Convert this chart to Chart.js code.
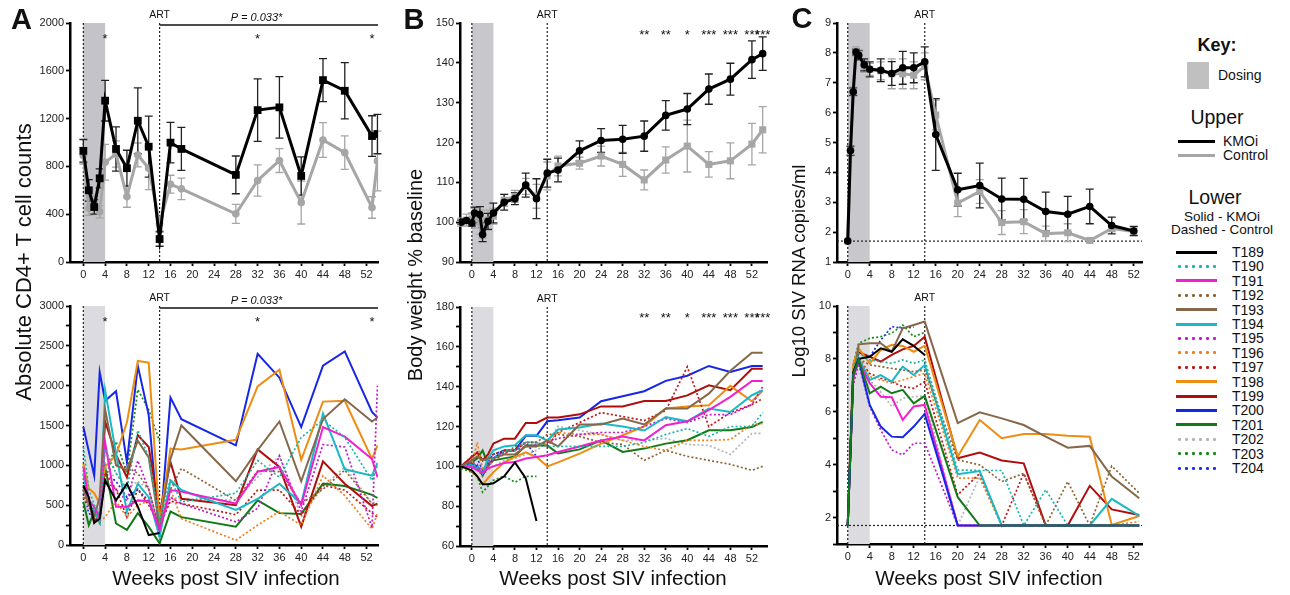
<!DOCTYPE html>
<html>
<head>
<meta charset="utf-8">
<script src="https://cdn.jsdelivr.net/npm/chart.js@4.4.1/dist/chart.umd.min.js"></script>
<style>
  body { margin: 0; background: #fff; width: 1290px; height: 595px; position: relative; overflow: hidden;
         font-family: "Liberation Sans", Arial, sans-serif; color: #111; }
  canvas { position: absolute; }
  .t { position: absolute; white-space: nowrap; line-height: 1; transform: translate(-50%, -50%); }
  .ln { position: absolute; height: 3px; }
</style>
</head>
<body>
<script>
// ===== Данные =====
// A: CD4+ (средние)
const weeksCd4 = [0, 1, 2, 3, 4, 6, 8, 10, 12, 14, 16, 18, 28, 32, 36, 40, 44, 48, 53, 54];
const cd4Kmoi = [930, 600, 460, 700, 1350, 946, 785, 1182, 965, 192, 999, 946, 729, 1271, 1294, 720, 1522, 1433, 1054, 1071];
const cd4KmoiSem = [95, 90, 60, 80, 170, 185, 150, 275, 255, 60, 170, 180, 158, 262, 258, 160, 180, 235, 170, 165];
const cd4Ctrl = [890, 450, 500, 420, 835, 904, 548, 896, 785, 320, 651, 612, 403, 682, 849, 498, 1021, 915, 456, 846];
const cd4CtrlSem = [70, 60, 60, 50, 150, 110, 90, 100, 180, 60, 75, 90, 80, 130, 100, 180, 145, 140, 90, 250];

// A: CD4+ по животным (порядок как в animalIds)
const cd4Animals = [
  [750, 600, 280, 330, 810, 560, 770, 480, 125, 150, null, null, null, null, null, null, null, null, null, null],
  [1230, 700, 500, 400, 1200, 900, 700, 1440, 1100, 300, 830, 540, 650, 1060, 850, 1350, 1570, 1350, 810, 1000],
  [980, 560, 480, 350, 1290, 480, 480, 560, 550, 190, 690, 670, 520, 920, 980, 500, 1480, 1360, 1080, 850],
  [600, 500, 400, 450, 900, 1000, 980, 900, 700, 200, 700, 960, 560, 930, 920, 520, 700, 940, 520, 500],
  [700, 520, 350, 600, 1700, 1000, 940, 1310, 1100, 230, 1080, 1500, 800, 1190, 1550, 800, 1580, 1830, 1550, 1600],
  [900, 520, 420, 290, 1940, 1150, 420, 770, 600, 100, 810, 690, 440, 580, 770, 520, 1650, 950, 870, 1030],
  [700, 500, 400, 350, 800, 700, 550, 1060, 700, 200, 600, 520, 290, 460, 1120, 420, 1260, 1230, 220, 2000],
  [600, 550, 400, 300, 350, 550, 350, 500, 550, 250, 700, 330, 60, 250, 420, 250, 870, 620, 200, 400],
  [600, 500, 350, 400, 900, 700, 350, 700, 500, 250, 550, 520, 380, 690, 690, 380, 750, 690, 400, 350],
  [1020, 710, 650, 520, 980, 1130, 1540, 2310, 2290, 290, 1210, 1200, 1320, 1990, 2200, 1070, 1800, 1810, 1080, 1250],
  [730, 560, 280, 400, 1550, 1130, 850, 1380, 1230, 400, 1040, 580, 500, 1200, 980, 230, 1050, 770, 490, 520],
  [1480, null, 870, 2170, 1810, 1930, 1040, 2250, 1630, 100, 1850, 1580, 1250, 2400, 2100, 1480, 2250, 2430, 1670, 1600],
  [540, 250, 420, 280, 980, 270, 190, 400, 230, 20, 420, 350, 230, 560, 400, 390, 770, 740, 630, 590],
  [550, 450, 350, 400, 800, 900, 700, 800, 700, 200, 600, 580, 560, 850, 1120, 350, 730, 980, 520, 550],
  [700, 500, 450, 400, 800, 1300, 900, 1950, 1700, 1300, null, null, null, null, null, null, null, null, null, null],
  [650, 400, 350, 300, 900, 800, 600, 700, 550, null, null, null, null, null, null, null, null, null, null, null],
];

// B: вес (средние)
const weeksWtMean = [-2, -1, 0, 0.5, 1.5, 2, 3, 4, 6, 8, 10, 12, 14, 16, 20, 24, 28, 32, 36, 40, 44, 48, 52, 54];
const wtKmoi = [100, 100.4, 99.8, 102.3, 101.9, 96.9, 100.2, 102.3, 105, 105.9, 109.3, 105.9, 112.3, 113.1, 117.9, 120.5, 120.8, 121.6, 126.8, 128.4, 133.4, 135.9, 140.8, 142.3];
const wtKmoiSem = [0.5, 0.5, 0.8, 1.5, 2, 1.8, 2, 2.5, 2, 1.5, 3, 5, 3.5, 3, 2.5, 3, 3.5, 3.8, 3.7, 3.9, 3.8, 4, 4.7, 4.2];
const wtCtrl = [100, 100.5, 100.8, 101, 100, 98.5, 100.5, 101.5, 105.5, 106.5, 109, 106.5, 111.6, 114.1, 114.8, 116.6, 114.5, 110.6, 115.6, 119.1, 114.5, 115.4, 119.6, 123.2];
const wtCtrlSem = [1, 1.5, 1.5, 2.5, 3, 2.5, 2.5, 2, 1.5, 1.5, 2, 3, 3.5, 2.5, 1.5, 2.5, 3, 2.5, 3.3, 6.5, 3.2, 4.5, 5.2, 5.8];

// B: вес по животным
const weeksWt = [-2, 0, 1, 2, 3, 4, 6, 8, 10, 12, 14, 16, 20, 24, 28, 32, 36, 40, 44, 48, 52, 54];
const wtAnimals = [
  [100, 98, 95, 91, 91, 91.5, 95, 102, 94, 72.5, null, null, null, null, null, null, null, null, null, null, null, null],
  [100, 101, 100, 98, 102, 104, 108, 108, 112, 112, 110, 110, 110, 110, 110, 112, 116, 119, 115, 120, 120, 127],
  [100, 99.7, 98, 97, 99, 100, 101.7, 102.2, 103.9, 104.7, 105.6, 107.2, 110, 113, 115, 113, 120.6, 122.6, 128.2, 134.9, 142.9, 142.9],
  [100, 100, 99, 95, 100, 103, 106, 110, 112, 112, 116, 116, 115, 112, 111, 103, 108, 105, 103, 101, 98, 100],
  [100, 103, 105, 103, 104, 104, 106, 106, 110, 110, 113, 110, 121, 121, 124, 121, 129, 129, 136.5, 148, 157, 157],
  [100, 100.5, 99, 96.4, 104, 108, 110, 110.6, 115.6, 115.6, 113, 118.5, 119.5, 121.5, 120, 118, 124.8, 122.6, 129, 127.3, 135.7, 138.2],
  [100, 102, 101, 97, 101, 104, 107, 108, 110, 111, 112, 114, 116, 117, 117, 120, 124, 122, 126, 126, 131, 140],
  [100, 101, 112, 98, 100, 104, 107, 108, 110, 110, 112, 117, 116, 116, 113, 110, 108, 113, 113, 113.5, 121, 121.5],
  [100, 105, 107, 103, 104, 106, 108, 108, 112, 112, 110, 117, 122, 127, 125, 123, 128, 150, 120, 127, 131, 134],
  [100, 97.7, 95, 91, 94, 97, 102, 104.7, 107, 104.7, 100, 102, 106.4, 111.4, 115.6, 120, 129, 130, 130.7, 140.4, 132.7, 137.9],
  [100, 104.7, 107, 103, 106, 111.4, 113.9, 113.9, 121.8, 121.8, 124.5, 124.5, 126.1, 130.1, 130.1, 132.8, 132.8, 135.6, 140.7, 138.2, 149, 149],
  [100, 101, 100, 95.5, 100, 104, 108, 108, 115.3, 115.3, 122.6, 123.1, 124.5, 132.7, 135.2, 137.7, 142.9, 145.5, 150.4, 147.4, 150.4, 150.4],
  [100, 102, 104, 108, 101, 103, 104, 105, 110.5, 110.5, 110.5, 106.5, 108.5, 113, 107.2, 108.9, 111.4, 113.1, 118.1, 118.1, 119.7, 122.3],
  [100, 101, 100, 96, 98, 100, 103, 104, 106, 108, 112, 120, 118, 116, 113, 113, 114, 111, 110.5, 106, 116.5, 116.5],
  [99, 97, 95, 87, 90, 93, 95, 92, 95, 95, null, null, null, null, null, null, null, null, null, null, null, null],
  [100, 102, 104, 98, 102, 106, 108, 108, 112, 105, null, null, null, null, null, null, null, null, null, null, null, null],
];

// C: вирусная нагрузка (средние)
const weeksVlMean = [0, 0.5, 1, 1.5, 2, 3, 4, 6, 8, 10, 12, 14, 16, 20, 24, 28, 32, 36, 40, 44, 48, 52];
const vlKmoi = [1.7, 4.73, 6.7, 8.03, 7.92, 7.6, 7.45, 7.42, 7.31, 7.5, 7.5, 7.7, 5.27, 3.42, 3.56, 3.11, 3.1, 2.69, 2.6, 2.86, 2.22, 2.04];
const vlKmoiSem = [0, 0.15, 0.12, 0.1, 0.15, 0.2, 0.25, 0.38, 0.4, 0.55, 0.5, 0.5, 1.2, 0.55, 0.75, 0.7, 0.7, 0.65, 0.6, 0.58, 0.28, 0.15];
const vlCtrl = [1.7, 4.7, 6.7, 8.05, 7.95, 7.55, 7.45, 7.4, 7.3, 7.3, 7.25, 7.55, 5.92, 2.97, 3.36, 2.32, 2.35, 1.95, 1.98, 1.72, 2.12, 2.02];
const vlCtrlSem = [0, 0.15, 0.15, 0.15, 0.15, 0.2, 0.2, 0.3, 0.5, 0.5, 0.45, 0.45, 0.5, 0.45, 0.4, 0.4, 0.4, 0.25, 0.3, 0.05, 0.1, 0.15];

// C: вирусная нагрузка по животным
const weeksVl = [0, 1, 2, 4, 6, 8, 10, 12, 14, 20, 24, 28, 32, 36, 40, 44, 48, 53];
const vlAnimals = [
  [1.7, 7.5, 8.0, 8.08, 8.4, 8.27, 8.74, 8.49, 8.15, null, null, null, null, null, null, null, null, null],
  [1.7, 7.6, 8.2, 7.96, 7.9, 7.83, 7.96, 7.83, 7.96, 3.8, 3.78, 3.78, 1.7, 3.05, 1.7, 1.7, 1.7, 1.7],
  [1.7, 7.3, 7.9, 7.08, 6.57, 6.55, 5.69, 6.2, 6.26, 1.7, 1.7, 1.7, 1.7, 1.7, 1.7, 1.7, 1.7, 1.7],
  [1.7, 7.5, 8.0, 7.77, 7.71, 7.64, 7.58, 7.52, 7.58, 4.18, 3.99, 3.36, 3.67, 1.7, 3.36, 1.7, 3.95, 2.92],
  [1.7, 7.2, 8.55, 8.59, 8.59, 8.27, 9.16, 9.28, 9.41, 5.57, 5.98, 5.75, 5.5, 5.06, 4.64, 4.71, 3.55, 2.73],
  [1.7, 7.4, 8.02, 7.2, 7.39, 7.14, 7.71, 7.39, 7.77, 3.64, 3.76, 1.7, 1.7, 1.7, 1.7, 1.7, 2.71, 2.06],
  [1.7, 7.0, 7.83, 6.2, 5.31, 4.56, 4.37, 4.81, 4.81, 1.7, 1.7, 1.7, 1.7, 1.7, 1.7, 1.7, 1.7, 1.7],
  [1.7, 7.4, 8.0, 7.33, 7.2, 7.08, 7.2, 7.33, 7.45, 3.49, 3.49, 1.7, 1.7, 1.7, 1.7, 1.7, 1.7, 1.85],
  [1.7, 7.3, 8.0, 7.45, 7.27, 7.14, 6.95, 6.89, 7.14, 2.86, 3.67, 1.7, 3.67, 1.7, 1.7, 1.7, 1.7, 1.7],
  [1.7, 7.8, 8.4, 7.83, 8.33, 8.53, 8.49, 8.27, 8.5, 4.31, 5.69, 5.0, 5.16, 5.16, 5.09, 5.06, 1.72, 2.06],
  [1.7, 7.6, 8.25, 8.08, 7.9, 8.15, 8.36, 8.49, 8.84, 4.24, 4.46, 4.16, 4.05, 1.7, 1.7, 3.2, 2.31, 2.1],
  [1.7, 7.4, 7.96, 6.26, 5.44, 5.06, 5.04, 5.44, 5.92, 1.7, 1.7, 1.7, 1.7, 1.7, 1.7, 1.7, 1.7, 1.7],
  [1.7, 7.4, 7.96, 6.7, 6.95, 6.7, 6.83, 6.32, 6.6, 2.77, 1.7, 1.7, 1.7, 1.7, 1.7, 1.7, 1.7, 1.7],
  [1.7, 7.2, 7.9, 7.2, 6.76, 6.2, 6.51, 6.57, 6.6, 1.7, 3.55, 1.7, 1.7, 1.7, 1.7, 1.7, 1.7, 1.7],
  [1.7, 7.8, 8.59, 8.78, 8.84, 8.97, 9.28, 8.84, 9.0, null, null, null, null, null, null, null, null, null],
  [1.7, 7.6, 8.21, 8.08, 8.71, 9.22, 9.16, 9.2, null, null, null, null, null, null, null, null, null, null],
];

// Животные
const animalIds = ["T189", "T190", "T191", "T192", "T193", "T194", "T195", "T196", "T197", "T198", "T199", "T200", "T201", "T202", "T203", "T204"];
const animalColors = ["#000000", "#1bb5a5", "#f01fcf", "#8b6433", "#86674a", "#19b9c8", "#c218c8", "#f07f1d",
                      "#c41616", "#ef8c12", "#b00d0d", "#1526e6", "#117a17", "#b4b4b4", "#168c16", "#1c2cf0"];
const animalDashed = [false, true, false, true, false, false, true, true, true, false, false, false, false, true, true, true];

// Подписи осей
const weekTicks = [0, 4, 8, 12, 16, 20, 24, 28, 32, 36, 40, 44, 48, 52];
const cd4UpperTicks = [0, 400, 800, 1200, 1600, 2000];
const cd4LowerTicks = [0, 250, 500, 750, 1000, 1250, 1500, 1750, 2000, 2250, 2500, 2750, 3000];
const wtUpperTicks = [90, 100, 110, 120, 130, 140, 150];
const wtLowerTicks = [60, 70, 80, 90, 100, 110, 120, 130, 140, 150, 160, 170, 180];
const vlUpperTicks = [1, 2, 3, 4, 5, 6, 7, 8, 9];
const vlLowerTicks = [1, 2, 3, 4, 5, 6, 7, 8, 9, 10];

const wtStars = [[32, "**"], [36, "**"], [40, "*"], [44, "***"], [48, "***"], [52, "***"], [54, "***"]];
const cd4Stars = [[4, "*"], [32, "*"], [53, "*"]];

// ===== Оформление =====
Chart.defaults.font.family = "'Liberation Sans', Arial, sans-serif";
Chart.defaults.color = "#222";

const YW = 44;
const XH = 24;
const PR = 10;
const GRAY = "#a6a6a6";

const toPoints = (weeks, vals) => weeks.map((w, i) => ({ x: w, y: vals[i] }));

// Плагин: полоса дозирования, пунктиры, ошибки, ART, звёздочки
const decorPlugin = {
  id: "decor",
  beforeDatasetsDraw(chart, args, o) {
    let { ctx, chartArea: a, scales } = chart;
    let x = scales.x, y = scales.y;
    ctx.save();
    let b0 = x.getPixelForValue(0), b1 = x.getPixelForValue(4);
    ctx.fillStyle = o.bandColor;
    ctx.fillRect(b0, a.top, b1 - b0, a.bottom - a.top);
    ctx.strokeStyle = "#222";
    ctx.lineWidth = 1.2;
    ctx.setLineDash([2, 2]);
    [0, 14].forEach((w) => {
      let px = x.getPixelForValue(w);
      ctx.beginPath();
      ctx.moveTo(px, a.top);
      ctx.lineTo(px, a.bottom);
      ctx.stroke();
    });
    if (o.lod) {
      let py = y.getPixelForValue(o.lod);
      ctx.beginPath();
      ctx.moveTo(a.left, py);
      ctx.lineTo(a.right, py);
      ctx.stroke();
    }
    ctx.setLineDash([]);
    (o.errors || []).forEach((e) => {
      let pts = chart.data.datasets[e.ds].data;
      ctx.strokeStyle = e.color;
      ctx.lineWidth = 1.3;
      pts.forEach((p, i) => {
        let err = e.sem[i];
        if (!err) return;
        let px = x.getPixelForValue(p.x);
        let y1 = y.getPixelForValue(p.y + err), y2 = y.getPixelForValue(p.y - err);
        ctx.beginPath();
        ctx.moveTo(px, y1); ctx.lineTo(px, y2);
        ctx.moveTo(px - 4, y1); ctx.lineTo(px + 4, y1);
        ctx.moveTo(px - 4, y2); ctx.lineTo(px + 4, y2);
        ctx.stroke();
      });
    });
    ctx.restore();
  },
  afterDraw(chart, args, o) {
    let { ctx, chartArea: a, scales } = chart;
    let x = scales.x;
    let x14 = x.getPixelForValue(14);
    ctx.save();
    ctx.fillStyle = "#111";
    ctx.textAlign = "center";
    ctx.textBaseline = "middle";
    ctx.font = "10.5px 'Liberation Sans', Arial, sans-serif";
    ctx.fillText("ART", x14, a.top - 8);
    if (o.pBar) {
      ctx.strokeStyle = "#111";
      ctx.lineWidth = 1.5;
      ctx.beginPath();
      ctx.moveTo(x14, a.top + 2);
      ctx.lineTo(a.right, a.top + 2);
      ctx.stroke();
      ctx.font = "italic 11px 'Liberation Sans', Arial, sans-serif";
      ctx.fillText("P = 0.033*", x.getPixelForValue(31.8), a.top - 5);
    }
    ctx.font = "13px 'Liberation Sans', Arial, sans-serif";
    ctx.textBaseline = "alphabetic";
    (o.stars || []).forEach(([w, s]) => {
      ctx.fillText(s, x.getPixelForValue(w), a.top + o.starDy + 6);
    });
    ctx.restore();
  },
};

const axisBase = (min, max, tickVals, labelVals, isX) => ({
  type: "linear",
  min: min,
  max: max,
  afterBuildTicks: (s) => {
    s.ticks = tickVals.map((v) => ({ value: v }));
  },
  afterFit: (s) => {
    if (isX) s.height = XH;
    else s.width = YW;
  },
  ticks: {
    autoSkip: false,
    maxRotation: 0,
    padding: 2,
    color: "#222",
    font: { size: 11 },
    callback: (v) => (labelVals.includes(v) ? String(v) : ""),
  },
  grid: { display: true, drawOnChartArea: false, drawTicks: true, tickLength: 4, tickWidth: 1.8, tickColor: "#000", color: "#000" },
  border: { display: true, width: 2.5, color: "#000" },
});

const makePanel = (area, canvasTop, xRange, yRange, yTicks, yLabels, datasets, decor) => {
  let c = document.createElement("canvas");
  let w = Math.round(area.R - area.L) + YW + PR;
  let h = Math.round(area.B - canvasTop) + XH;
  c.width = w;
  c.height = h;
  c.style.left = area.L - YW + "px";
  c.style.top = canvasTop + "px";
  c.style.width = w + "px";
  c.style.height = h + "px";
  document.body.appendChild(c);
  return new Chart(c.getContext("2d"), {
    type: "line",
    data: { datasets: datasets },
    plugins: [decorPlugin],
    options: {
      responsive: false,
      animation: false,
      events: [],
      layout: { padding: { top: area.T - canvasTop, right: PR, left: 0, bottom: 0 } },
      scales: {
        x: axisBase(xRange[0], xRange[1], weekTicks, weekTicks, true),
        y: axisBase(yRange[0], yRange[1], yTicks, yLabels, false),
      },
      plugins: { legend: { display: false }, tooltip: { enabled: false }, decor: decor },
    },
  });
};

const meanSets = (weeks, kmoi, ctrl, kStyle, cStyle) => [
  {
    label: "KMOi", data: toPoints(weeks, kmoi), borderColor: "#000", borderWidth: 3,
    pointStyle: kStyle, pointRadius: kStyle === "rect" ? 5.5 : 3.8, pointBackgroundColor: "#000", pointBorderColor: "#000", pointBorderWidth: 0,
  },
  {
    label: "Control", data: toPoints(weeks, ctrl), borderColor: GRAY, borderWidth: 3,
    pointStyle: cStyle, pointRadius: cStyle === "rect" ? 5 : 3.8, pointBackgroundColor: GRAY, pointBorderColor: GRAY, pointBorderWidth: 0,
  },
];

const animalSets = (weeks, rows, orders) =>
  rows.map((vals, i) => ({
    label: animalIds[i],
    data: toPoints(weeks, vals),
    borderColor: animalColors[i],
    borderWidth: animalDashed[i] ? 1.7 : 2,
    borderDash: animalDashed[i] ? [2, 2.2] : [],
    pointRadius: 0,
    spanGaps: true,
    tension: 0,
    order: orders ? orders[i] : 0,
  }));

const upErrors = (kSem, cSem) => [
  { ds: 1, sem: cSem, color: GRAY },
  { ds: 0, sem: kSem, color: "#222" },
];

// ===== Панели =====
const xA = [-2.45, 54.1], xB = [-2.2, 54.8], xC = [-1.95, 53.5];

makePanel({ L: 70, R: 378, T: 23, B: 262 }, 0, xA, [0, 2000], cd4UpperTicks, cd4UpperTicks,
  meanSets(weeksCd4, cd4Kmoi, cd4Ctrl, "rect", "circle"),
  { bandColor: "#c4c3c8", errors: upErrors(cd4KmoiSem, cd4CtrlSem), pBar: true, stars: cd4Stars, starDy: 14 });

makePanel({ L: 70, R: 378, T: 306, B: 545 }, 272, xA, [0, 3000], cd4LowerTicks, [0, 500, 1000, 1500, 2000, 2500, 3000],
  animalSets(weeksCd4, cd4Animals),
  { bandColor: "#dcdce0", pBar: true, stars: cd4Stars, starDy: 14 });

makePanel({ L: 460, R: 767, T: 23, B: 262 }, 0, xB, [90, 150], wtUpperTicks, wtUpperTicks,
  meanSets(weeksWtMean, wtKmoi, wtCtrl, "circle", "rect"),
  { bandColor: "#c8c7cc", errors: upErrors(wtKmoiSem, wtCtrlSem), stars: wtStars, starDy: 10 });

makePanel({ L: 460, R: 767, T: 307, B: 546 }, 272, xB, [60, 180], wtLowerTicks, [60, 80, 100, 120, 140, 160, 180],
  animalSets(weeksWt, wtAnimals),
  { bandColor: "#dcdce0", stars: wtStars, starDy: 8.5 });

makePanel({ L: 837, R: 1142, T: 23, B: 262 }, 0, xC, [1, 9], vlUpperTicks, vlUpperTicks,
  meanSets(weeksVlMean, vlKmoi, vlCtrl, "circle", "rect"),
  { bandColor: "#c8c7cc", errors: upErrors(vlKmoiSem, vlCtrlSem), lod: 1.7 });

makePanel({ L: 837, R: 1142, T: 306, B: 544 }, 272, xC, [1, 10], vlLowerTicks, [2, 4, 6, 8, 10],
  animalSets(weeksVl, vlAnimals, [0, 0, 0, 0, 0, 0, 0, 0, 0, 0, 0, -1, -2, 0, 0, 0]),
  { bandColor: "#dcdce0", lod: 1.7 });

// ===== Тексты =====
const addText = (str, cx, cy, css) => {
  let d = document.createElement("div");
  d.className = "t";
  d.textContent = str;
  d.style.left = cx + "px";
  d.style.top = cy + "px";
  Object.assign(d.style, css || {});
  document.body.appendChild(d);
  return d;
};
const rot = "translate(-50%, -50%) rotate(-90deg)";

addText("A", 21.5, 19, { fontSize: "29px", fontWeight: "bold" });
addText("B", 414, 18.5, { fontSize: "29px", fontWeight: "bold" });
addText("C", 802, 18, { fontSize: "29px", fontWeight: "bold" });

addText("Absolute CD4+ T cell counts", 24, 262, { fontSize: "22px", transform: rot });
addText("Body weight % baseline", 415, 275, { fontSize: "20px", transform: rot });
addText("Log10 SIV RNA copies/ml", 799, 271, { fontSize: "18.5px", transform: rot });

addText("Weeks post SIV infection", 226, 578, { fontSize: "20.5px" });
addText("Weeks post SIV infection", 613, 578, { fontSize: "20.5px" });
addText("Weeks post SIV infection", 989, 578, { fontSize: "20.5px" });

// ===== Ключ =====
addText("Key:", 1217, 45, { fontSize: "18px", fontWeight: "bold" });
let box = document.createElement("div");
Object.assign(box.style, { position: "absolute", left: "1187px", top: "62px", width: "22px", height: "27px", background: "#c0c0c0" });
document.body.appendChild(box);
addText("Dosing", 1218, 75, { fontSize: "14px", transform: "translate(0, -50%)" });

addText("Upper", 1217, 118, { fontSize: "19.5px" });
const keyLine = (x0, x1, y, color, dashed) => {
  let d = document.createElement("div");
  d.className = "ln";
  d.style.left = x0 + "px";
  d.style.top = y - 1.5 + "px";
  d.style.width = x1 - x0 + "px";
  if (dashed) d.style.background = "radial-gradient(circle, " + color + " 1.3px, transparent 1.7px) 0 0 / 7px 3px repeat-x";
  else d.style.background = color;
  document.body.appendChild(d);
};
keyLine(1178, 1215, 141, "#000", false);
addText("KMOi", 1223, 141, { fontSize: "14px", transform: "translate(0, -50%)" });
keyLine(1178, 1215, 155, GRAY, false);
addText("Control", 1223, 155, { fontSize: "14px", transform: "translate(0, -50%)" });

addText("Lower", 1215, 198, { fontSize: "19.5px" });
addText("Solid - KMOi", 1222, 217, { fontSize: "13.5px" });
addText("Dashed - Control", 1222, 230, { fontSize: "13.5px" });

animalIds.forEach((id, i) => {
  let y = 252 + i * 14.4;
  keyLine(1176, 1217, y, animalColors[i], animalDashed[i]);
  addText(id, 1232, y, { fontSize: "14px", transform: "translate(0, -50%)" });
});
</script>
</body>
</html>
